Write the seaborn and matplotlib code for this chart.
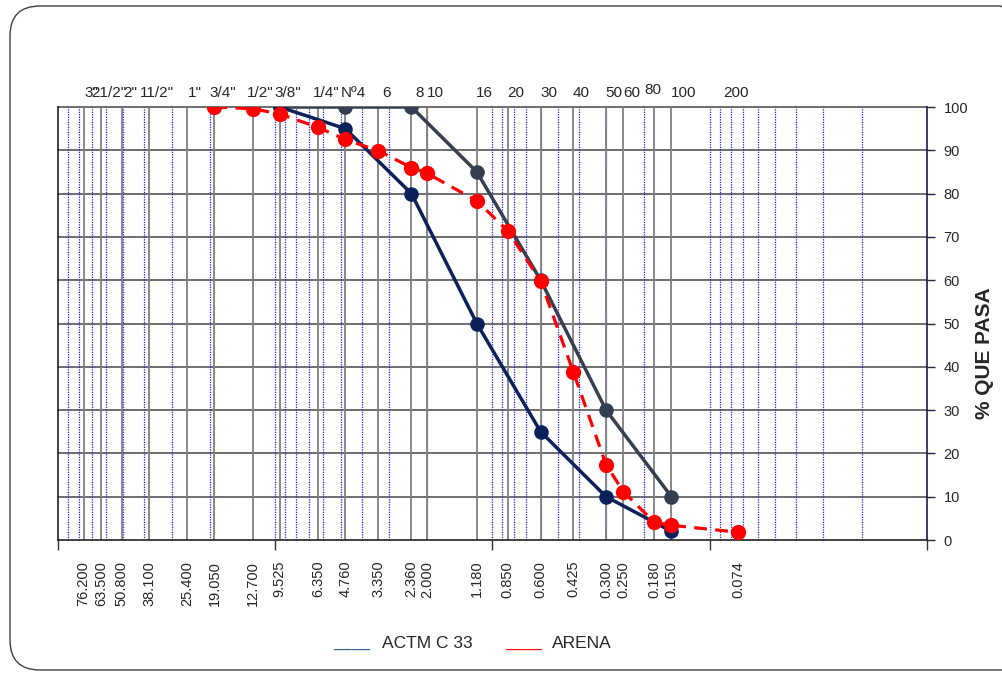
import matplotlib
matplotlib.use("Agg")
import matplotlib.pyplot as plt
import matplotlib.transforms as mtransforms
from matplotlib.patches import FancyBboxPatch
from matplotlib.ticker import NullLocator
import seaborn as sns

# sieve openings (mm) and names
sieve_names = ['3"', '21/2"', '2"', '11/2"', '1"', '3/4"', '1/2"', '3/8"', '1/4"', 'Nº4', '6', '8', '10',
               '16', '20', '30', '40', '50', '60', '80', '100', '200']
sieve_mm = [76.2, 63.5, 50.8, 38.1, 25.4, 19.05, 12.7, 9.525, 6.35, 4.76, 3.35, 2.36, 2.0,
            1.18, 0.85, 0.6, 0.425, 0.3, 0.25, 0.18, 0.15, 0.074]
mm_labels = ["76.200", "63.500", "50.800", "38.100", "25.400", "19.050", "12.700", "9.525", "6.350",
             "4.760", "3.350", "2.360", "2.000", "1.180", "0.850", "0.600", "0.425", "0.300", "0.250",
             "0.180", "0.150", "0.074"]

# ASTM C 33 limits
astm_mm = [9.525, 4.76, 2.36, 1.18, 0.6, 0.3, 0.15]
astm_low = [100, 95, 80, 50, 25, 10, 2]
astm_high = [100, 100, 100, 85, 60, 30, 10]

# sand (arena)
arena_mm = [19.05, 12.7, 9.525, 6.35, 4.76, 3.35, 2.36, 2.0, 1.18, 0.85, 0.6, 0.425, 0.3, 0.25,
            0.18, 0.15, 0.074]
arena_pasa = [100, 99.6, 98.4, 95.3, 92.5, 89.9, 86.0, 84.7, 78.3, 71.4, 59.8, 38.9, 17.4, 11.2,
              4.1, 3.4, 1.8]

y_ticks = list(range(0, 101, 10))

sns.set_style("white")
plt.rcParams['font.family'] = ['Liberation Sans', 'DejaVu Sans']

fig = plt.figure(figsize=(10.03, 6.73), dpi=100)
ax = fig.add_axes([0.0578, 0.1976, 0.8664, 0.6434])
ax.set_xscale('log')
ax.set_xlim(100, 0.01)
ax.set_ylim(0, 100)

# grid: horizontal lines, blue dotted log lines, grey sieve lines
for v in y_ticks[1:]:
    ax.axhline(v, color='#555555', lw=1.2, zorder=1, clip_on=False)
for d in range(-2, 2):
    for k in range(1, 10):
        xv = k * 10 ** d
        if 0.01 < xv < 100:
            ax.axvline(xv, color='#2020ff', lw=0.9, ls=(0, (1, 1)), zorder=1)
for s in sieve_mm[:-1]:
    ax.axvline(s, color='#7f7f7f', lw=1.3, zorder=1.5)

sns.lineplot(x=astm_mm, y=astm_high, ax=ax, color='#353f50', lw=2.5, marker='o', markersize=10.5,
             markeredgewidth=0, sort=False, zorder=3)
sns.lineplot(x=astm_mm, y=astm_low, ax=ax, color='#0c2159', lw=2.5, marker='o', markersize=10.5,
             markeredgewidth=0, sort=False, zorder=3)
sns.lineplot(x=arena_mm, y=arena_pasa, ax=ax, color='#ff0000', lw=2.3, ls=(0, (4, 2.6)), marker='o',
             markersize=11, markeredgewidth=0, sort=False, zorder=4)

# axes styling
ax.set_xlabel('')
ax.set_ylabel('')
ax.set_xticks([100, 10, 1, 0.1, 0.01])
ax.xaxis.set_minor_locator(NullLocator())
ax.set_xticklabels([])
ax.tick_params(axis='x', direction='out', length=7, width=1, color='#333333', bottom=True)
ax.set_yticks(y_ticks)
ax.tick_params(axis='y', left=False, right=True, labelleft=False, labelright=True,
               direction='out', length=6, width=1, color='#222244', labelsize=10.5, pad=6)
ax.spines['top'].set_visible(False)
ax.spines['left'].set_color('#222222')
ax.spines['bottom'].set_color('#222222')
ax.spines['right'].set_color('#1a1a4a')
for sp in ['left', 'bottom', 'right']:
    ax.spines[sp].set_linewidth(1.2)

# sieve names on top (shifted a little right as in the original sheet), sizes below
name_nudge = {'80': -1, '100': 12, '200': -2}
base_tr = mtransforms.blended_transform_factory(ax.transData, ax.transAxes)
bot_tr = mtransforms.offset_copy(base_tr, fig=fig, y=-15, units='points')
for s, name, lab in zip(sieve_mm, sieve_names, mm_labels):
    dx = name_nudge.get(name, 8)
    dy = 9.5 if name == '80' else 7.5
    top_tr = mtransforms.offset_copy(base_tr, fig=fig, x=dx * 0.72, y=dy, units='points')
    ax.text(s, 1, name, transform=top_tr, ha='center', va='baseline', fontsize=11)
    ax.text(s, 0, lab, transform=bot_tr, ha='center', va='top', rotation=90, fontsize=10.5)

fig.text(985 / 1003, 1 - 353 / 673, '% QUE PASA', rotation=90, ha='center', va='center',
         fontsize=15, fontweight='bold')

# legend drawn as text
fig.text(333 / 1003, 1 - 648 / 673, '____', color='#2e5597', fontsize=12, va='baseline')
fig.text(382 / 1003, 1 - 648 / 673, 'ACTM C 33', fontsize=12.5, va='baseline')
fig.text(505 / 1003, 1 - 648 / 673, '____', color='#ff0000', fontsize=12, va='baseline')
fig.text(552 / 1003, 1 - 648 / 673, 'ARENA', fontsize=12.5, va='baseline')

# rounded outer frame
frame = FancyBboxPatch((0.10, 0.03), 10.2, 6.64, boxstyle='round,pad=0,rounding_size=0.3',
                       transform=fig.dpi_scale_trans, fill=False, ec='#404040', lw=1.0)
fig.patches.append(frame)

fig.savefig('out.png', dpi=100)
